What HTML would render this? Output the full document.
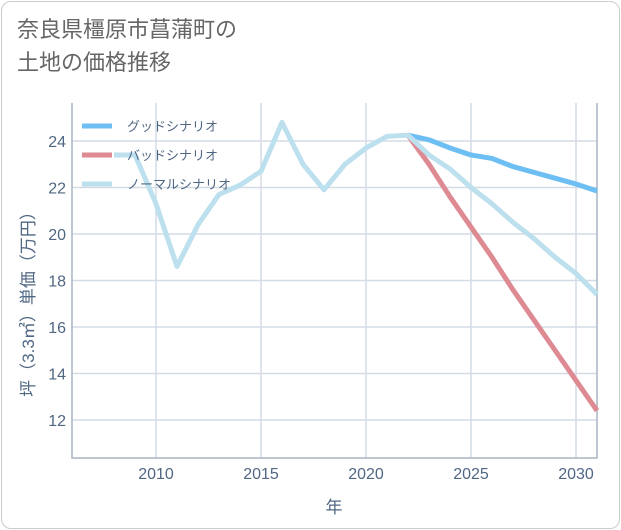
<!DOCTYPE html>
<html><head><meta charset="utf-8"><style>
body{margin:0;background:#fff;font-family:"Liberation Sans","Noto Sans CJK JP",sans-serif}
.card{position:absolute;left:1px;top:1px;width:617px;height:526px;border:1px solid #ccc;border-radius:10px;background:#fff}
.title{position:absolute;left:17px;top:13px;font-size:22px;line-height:33px;color:#666}
</style></head><body>
<div class="card"></div>
<div class="title">奈良県橿原市菖蒲町の<br>土地の価格推移</div>
<svg id="c" width="621" height="530" style="position:absolute;left:0;top:0"></svg>
<script>
const years=[2008,2009,2010,2011,2012,2013,2014,2015,2016,2017,2018,2019,2020,2021,2022,2023,2024,2025,2026,2027,2028,2029,2030,2031];
const normal=[23.4,23.4,21.3,18.6,20.4,21.7,22.1,22.7,24.8,23.0,21.9,23.0,23.7,24.2,24.25,23.4,22.8,22.0,21.3,20.5,19.8,19.0,18.3,17.4];
const goodYears=[2022,2023,2024,2025,2026,2027,2028,2029,2030,2031];
const good=[24.25,24.05,23.7,23.4,23.25,22.9,22.65,22.4,22.15,21.85];
const bad=[24.25,23.0,21.6,20.3,19.0,17.6,16.3,15.0,13.7,12.4];
const xTicks=[2010,2015,2020,2025,2030];
const yTicks=[12,14,16,18,20,22,24];
const X0=72,X1=597,Y0=103,Y1=458;
const x=v=>156+(v-2010)*21;
const y=v=>141+(24-v)*23.25;
const svg=document.getElementById('c');
const NS='http://www.w3.org/2000/svg';
function mk(t,a,p){const e=document.createElementNS(NS,t);for(const k in a)e.setAttribute(k,a[k]);(p||svg).appendChild(e);return e;}
xTicks.forEach(t=>{
 const l=mk('line',{x1:x(t),x2:x(t),y1:Y0,y2:Y1,stroke:'#d3dbe5','stroke-width':1.5});
 
 
 const tx=mk('text',{x:x(t),y:Y1+21,'text-anchor':'middle','font-size':16,fill:'#506784'});tx.textContent=t;
 
 
});
yTicks.forEach(t=>{
 const l=mk('line',{x1:X0,x2:X1,y1:y(t),y2:y(t),stroke:'#d3dbe5','stroke-width':1.5});
 
 
 const tx=mk('text',{x:X0-6,y:y(t)+6,'text-anchor':'end','font-size':16,fill:'#506784'});tx.textContent=t;
 
 
});
const ax=mk('path',{d:`M${X0},${Y0}V${Y1}H${X1}V${Y0}`,fill:'none',stroke:'#a8b4c4','stroke-width':1.5});


function line(xs,vs,col,name){
 const p=mk('polyline',{points:xs.map((t,i)=>x(t)+','+y(vs[i])).join(' '),fill:'none',stroke:col,'stroke-width':5,'stroke-linejoin':'round'});
 
 
}
line(goodYears,good,'#6dbef3','good-scenario-line');
line(goodYears,bad,'#de8a92','bad-scenario-line');
line(years,normal,'#bde0ee','normal-scenario-line');
const leg=[['グッドシナリオ','#6dbef3'],['バッドシナリオ','#de8a92'],['ノーマルシナリオ','#bde0ee']];
leg.forEach((e,i)=>{
 const g=mk('g',{});
 
 
 const yy=126+i*29;
 mk('line',{x1:82,x2:112,y1:yy,y2:yy,stroke:e[1],'stroke-width':5},g);
 const t=mk('text',{x:127,y:yy+5,'font-size':13,fill:'#506784'},g);t.textContent=e[0];
});
const xt=mk('text',{x:334,y:513,'text-anchor':'middle','font-size':17,fill:'#506784'});xt.textContent='年';


const yt=mk('text',{x:0,y:0,'text-anchor':'middle','font-size':17,fill:'#506784',transform:'translate(34,300) rotate(-90)'});yt.textContent='坪（3.3㎡）単価（万円）';


</script>
</body></html>
